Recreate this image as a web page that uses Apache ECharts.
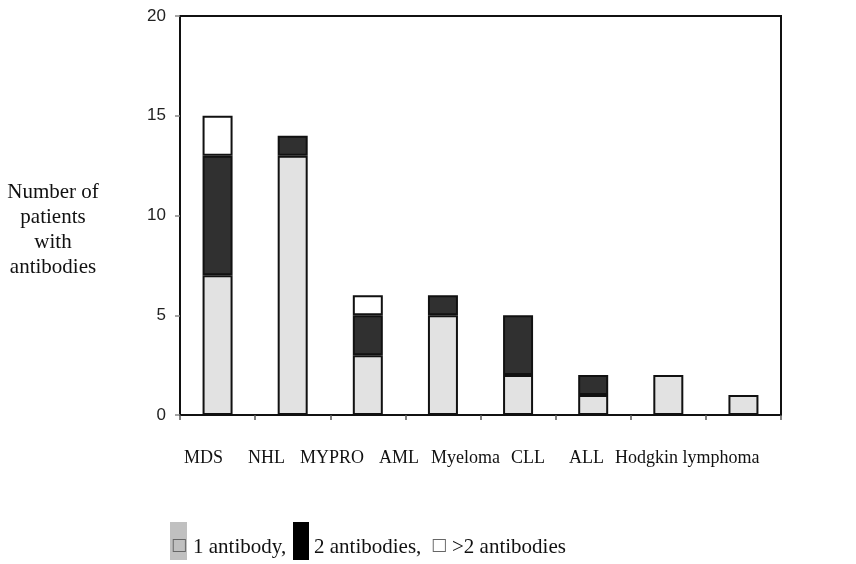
<!DOCTYPE html>
<html><head><meta charset="utf-8">
<script src="https://cdn.jsdelivr.net/npm/echarts@6/dist/echarts.min.js"></script>
<style>html,body{margin:0;padding:0;background:#fff}#c{width:856px;height:564px}</style>
</head><body><div id="c"></div>
<script>
const categories = ['MDS','NHL','MYPRO','AML','Myeloma','CLL','ALL','Hodgkin lymphoma'];
const oneAntibody = [7,13,3,5,2,1,2,1];
const twoAntibodies = [6,1,2,1,3,1,0,0];
const moreAntibodies = [2,0,1,0,0,0,0,0];
const yTicks = [0,5,10,15,20];
const seriesNames = ['1 antibody','2 antibodies','>2 antibodies'];
const yTitle = ['Number of','patients','with','antibodies'];

// layout of the free-standing category label row (left x of each label)
const labelLeft = [184,248,300,379,431,511,569,615];

const chart = echarts.init(document.getElementById('c'));
const serif = 'Liberation Serif';
const sans = 'Liberation Sans';

const graphics = categories.map((c,i)=>({
  type:'text', x:labelLeft[i], y:449,
  style:{text:c, font:'18px "'+serif+'"', fill:'#111'}
}));
graphics.push({
  type:'text', x:53, y:180,
  style:{text:yTitle.join('\n'), font:'21px "'+serif+'"', fill:'#111', align:'center', lineHeight:25}
});
// legend
graphics.push({type:'rect', shape:{x:170,y:522,width:17,height:38}, style:{fill:'#c0c0c0'}});
graphics.push({type:'text', x:171, y:537, style:{text:'\u25A1', font:'17px "DejaVu Sans"', fill:'#666'}});
graphics.push({type:'text', x:193, y:537, style:{text:'1 antibody,', font:'21px "'+serif+'"', fill:'#111'}});
graphics.push({type:'rect', shape:{x:293,y:522,width:16,height:38}, style:{fill:'#000'}});
graphics.push({type:'text', x:314, y:537, style:{text:'2 antibodies,', font:'21px "'+serif+'"', fill:'#111'}});
graphics.push({type:'text', x:431, y:537, style:{text:'\u25A1', font:'17px "DejaVu Sans"', fill:'#666'}});
graphics.push({type:'text', x:452, y:537, style:{text:'>2 antibodies', font:'21px "'+serif+'"', fill:'#111'}});

const barStyle = (color)=>({color:color, borderColor:'#111', borderWidth:2});
const nz = (arr)=>arr.map(v=> v===0 ? '-' : v);

chart.setOption({
  backgroundColor:'#fff',
  animation:false,
  grid:{left:180, right:75, top:16, bottom:149, show:true, borderColor:'#111', borderWidth:2, backgroundColor:'transparent'},
  xAxis:{
    type:'category', data:categories, boundaryGap:true,
    axisLine:{lineStyle:{color:'#111', width:2}},
    axisTick:{show:true, interval:0, length:5, lineStyle:{color:'#555', width:1.5}},
    axisLabel:{show:false}
  },
  yAxis:{
    type:'value', min:0, max:20, interval:5,
    axisLine:{show:true, lineStyle:{color:'#111', width:2}},
    axisTick:{show:true, length:5, lineStyle:{color:'#888', width:1.5}},
    axisLabel:{margin:14, color:'#222', fontFamily:sans, fontSize:17,
      formatter:(v)=> yTicks.includes(v) ? String(v) : ''},
    splitLine:{show:false}
  },
  series:[
    {name:seriesNames[0], type:'bar', stack:'a', data:nz(oneAntibody), barWidth:30, itemStyle:barStyle('#e2e2e2')},
    {name:seriesNames[1], type:'bar', stack:'a', data:nz(twoAntibodies), barWidth:30, itemStyle:barStyle('#303030')},
    {name:seriesNames[2], type:'bar', stack:'a', data:nz(moreAntibodies), barWidth:30, itemStyle:barStyle('#ffffff')}
  ],
  graphic:graphics
});
</script>
</body></html>
